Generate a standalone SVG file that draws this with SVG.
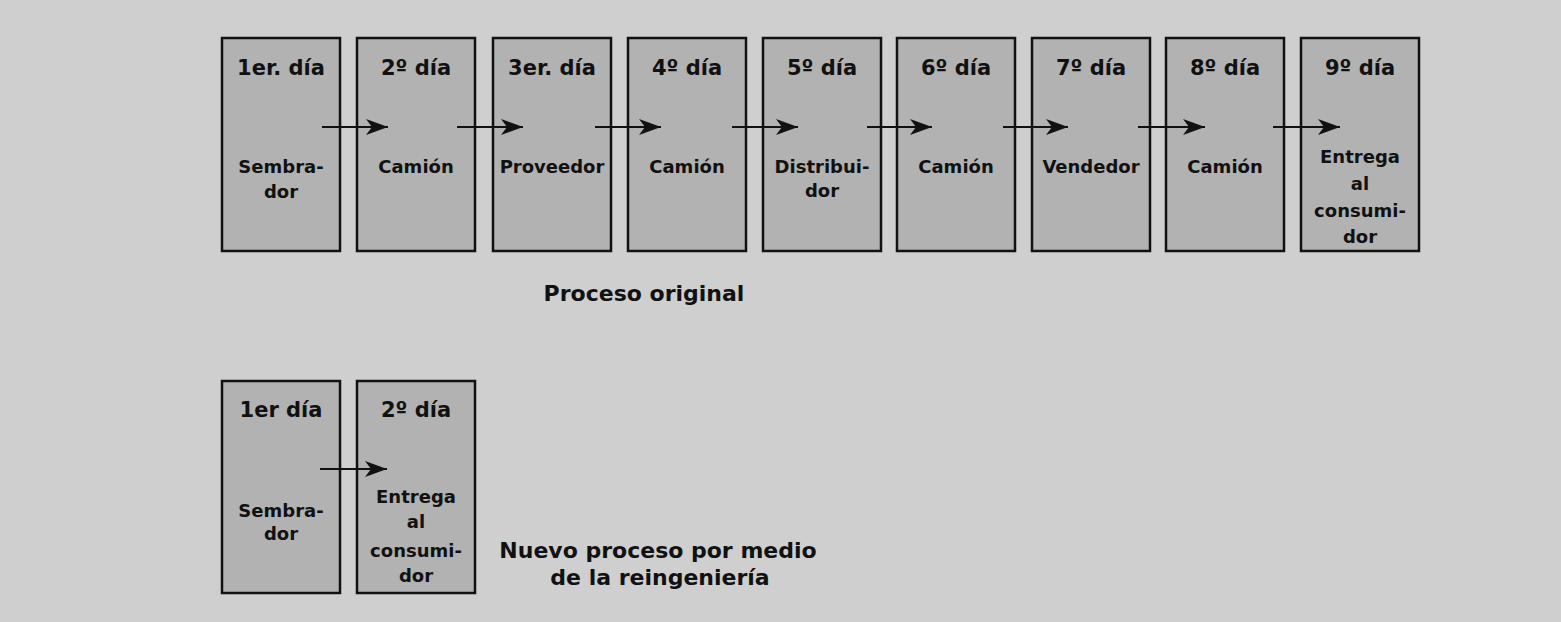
<svg xmlns="http://www.w3.org/2000/svg" width="1561" height="622" viewBox="0 0 1561 622">
<style>
.bg{fill:#cfcfcf}
.box{fill:#b2b2b2;stroke:#111;stroke-width:2.5}
.day{font-family:"DejaVu Sans",sans-serif;font-weight:bold;font-size:21px;fill:#111;text-anchor:middle}
.lbl{font-family:"DejaVu Sans",sans-serif;font-weight:bold;font-size:18px;fill:#111;text-anchor:middle}
.cap{font-family:"DejaVu Sans",sans-serif;font-weight:bold;font-size:22px;fill:#111;text-anchor:middle}
.conn{stroke:#111;stroke-width:2.2;fill:none;marker-end:url(#ah)}
</style>
<defs>
<marker id="ah" markerUnits="userSpaceOnUse" markerWidth="24" markerHeight="20" refX="22" refY="10" orient="auto">
<path d="M0,2 L22,10 L0,18 L6,10 z" fill="#111"/>
</marker>
</defs>
<rect class="bg" x="0" y="0" width="1561" height="622"/>

<g id="n1"><rect class="box" x="222" y="38" width="118" height="213"/><text class="day" x="281" y="75">1er. día</text><text class="lbl" x="281" y="173">Sembra-</text><text class="lbl" x="281" y="198">dor</text></g>
<g id="n2"><rect class="box" x="357" y="38" width="118" height="213"/><text class="day" x="416" y="75">2º día</text><text class="lbl" x="416" y="173">Camión</text></g>
<g id="n3"><rect class="box" x="493" y="38" width="118" height="213"/><text class="day" x="552" y="75">3er. día</text><text class="lbl" x="552" y="173">Proveedor</text></g>
<g id="n4"><rect class="box" x="628" y="38" width="118" height="213"/><text class="day" x="687" y="75">4º día</text><text class="lbl" x="687" y="173">Camión</text></g>
<g id="n5"><rect class="box" x="763" y="38" width="118" height="213"/><text class="day" x="822" y="75">5º día</text><text class="lbl" x="822" y="173">Distribui-</text><text class="lbl" x="822" y="197">dor</text></g>
<g id="n6"><rect class="box" x="897" y="38" width="118" height="213"/><text class="day" x="956" y="75">6º día</text><text class="lbl" x="956" y="173">Camión</text></g>
<g id="n7"><rect class="box" x="1032" y="38" width="118" height="213"/><text class="day" x="1091" y="75">7º día</text><text class="lbl" x="1091" y="173">Vendedor</text></g>
<g id="n8"><rect class="box" x="1166" y="38" width="118" height="213"/><text class="day" x="1225" y="75">8º día</text><text class="lbl" x="1225" y="173">Camión</text></g>
<g id="n9"><rect class="box" x="1301" y="38" width="118" height="213"/><text class="day" x="1360" y="75">9º día</text><text class="lbl" x="1360" y="163">Entrega</text><text class="lbl" x="1360" y="190">al</text><text class="lbl" x="1360" y="217">consumi-</text><text class="lbl" x="1360" y="243">dor</text></g>

<g id="m1"><rect class="box" x="222" y="381" width="118" height="212"/><text class="day" x="281" y="417">1er día</text><text class="lbl" x="281" y="517">Sembra-</text><text class="lbl" x="281" y="540">dor</text></g>
<g id="m2"><rect class="box" x="357" y="381" width="118" height="212"/><text class="day" x="416" y="417">2º día</text><text class="lbl" x="416" y="503">Entrega</text><text class="lbl" x="416" y="528">al</text><text class="lbl" x="416" y="557">consumi-</text><text class="lbl" x="416" y="582">dor</text></g>

<g id="connectors">
<line class="conn" x1="322" y1="127" x2="388" y2="127"/>
<line class="conn" x1="457" y1="127" x2="523" y2="127"/>
<line class="conn" x1="595" y1="127" x2="661" y2="127"/>
<line class="conn" x1="732" y1="127" x2="798" y2="127"/>
<line class="conn" x1="867" y1="127" x2="932" y2="127"/>
<line class="conn" x1="1003" y1="127" x2="1068" y2="127"/>
<line class="conn" x1="1138" y1="127" x2="1205" y2="127"/>
<line class="conn" x1="1273" y1="127" x2="1340" y2="127"/>
<line class="conn" x1="320" y1="469" x2="387" y2="469"/>
</g>

<g id="captions">
<text class="cap" x="644" y="301">Proceso original</text>
<text class="cap" x="658" y="558">Nuevo proceso por medio</text>
<text class="cap" x="660" y="585">de la reingeniería</text>
</g>
</svg>
